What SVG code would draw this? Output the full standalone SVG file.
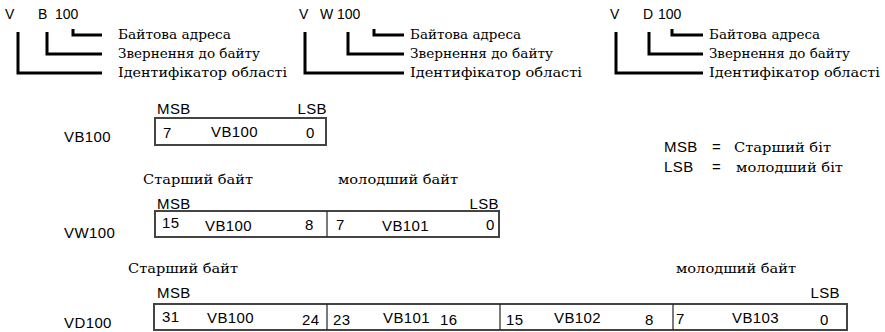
<svg xmlns="http://www.w3.org/2000/svg" width="885" height="332" viewBox="0 0 885 332">
<style>
.s{font-family:"Liberation Sans",Arial,sans-serif;font-size:15px;letter-spacing:0.4px;fill:#000}
.t{font-family:"Liberation Sans",Arial,sans-serif;font-size:14px;fill:#000}
.r{font-family:"DejaVu Serif","Liberation Serif",serif;font-size:13px;fill:#000}
.br{fill:none;stroke:#000;stroke-width:3}
.box{fill:#fff;stroke:#444;stroke-width:2}
.div{stroke:#222;stroke-width:1.2}
</style>
<rect width="885" height="332" fill="#fff"/>
<g id="format-B">
<text class="t" x="5" y="19">V</text><text class="t" x="38" y="19">B</text><text class="t" x="55" y="19">100</text>
<text class="r" x="118" y="39" textLength="113" lengthAdjust="spacingAndGlyphs">Байтова адреса</text>
<text class="r" x="118" y="58" textLength="142" lengthAdjust="spacingAndGlyphs">Звернення до байту</text>
<text class="r" x="118" y="77" textLength="169" lengthAdjust="spacingAndGlyphs">Ідентифікатор області</text>
</g>
<g id="format-W">
<text class="t" x="299" y="19">V</text><text class="t" x="320" y="19">W</text><text class="t" x="337" y="19">100</text>
<text class="r" x="410" y="39" textLength="111" lengthAdjust="spacingAndGlyphs">Байтова адреса</text>
<text class="r" x="410" y="58" textLength="143" lengthAdjust="spacingAndGlyphs">Звернення до байту</text>
<text class="r" x="410" y="77" textLength="172" lengthAdjust="spacingAndGlyphs">Ідентифікатор області</text>
</g>
<g id="format-D">
<text class="t" x="610" y="19">V</text><text class="t" x="643" y="19">D</text><text class="t" x="658" y="19">100</text>
<text class="r" x="709" y="39" textLength="111" lengthAdjust="spacingAndGlyphs">Байтова адреса</text>
<text class="r" x="709" y="58" textLength="141" lengthAdjust="spacingAndGlyphs">Звернення до байту</text>
<text class="r" x="709" y="77" textLength="171" lengthAdjust="spacingAndGlyphs">Ідентифікатор області</text>
</g>
<g id="connectors">
<path class="br" d="M73,29 V35 H102 M47,32 V54 H102 M18,32 V73 H102"/>
<path class="br" d="M374,29 V35 H404 M348,32 V54 H404 M305,32 V73 H404"/>
<path class="br" d="M672,29 V35 H703 M649,32 V54 H703 M616,32 V73 H703"/>
</g>
<g id="legend">
<text class="s" x="664" y="152">MSB</text><text class="s" x="712" y="152">=</text><text class="r" x="734" y="152" textLength="97" lengthAdjust="spacingAndGlyphs">Старший біт</text>
<text class="s" x="664" y="172">LSB</text><text class="s" x="712" y="172">=</text><text class="r" x="736" y="172" textLength="107" lengthAdjust="spacingAndGlyphs">молодший біт</text>
</g>
<g id="VB100">
<text class="s" x="64" y="142">VB100</text>
<text class="s" x="157" y="114">MSB</text><text class="s" x="327" y="114" text-anchor="end">LSB</text>
<rect class="box" x="155" y="118" width="171" height="27"/>
<text class="s" x="163" y="138">7</text><text class="s" x="211" y="137">VB100</text><text class="s" x="306" y="138">0</text>
</g>
<g id="VW100">
<text class="r" x="143" y="184" textLength="110" lengthAdjust="spacingAndGlyphs">Старший байт</text><text class="r" x="338" y="184" textLength="120" lengthAdjust="spacingAndGlyphs">молодший байт</text>
<text class="s" x="64" y="238">VW100</text>
<text class="s" x="157" y="209">MSB</text><text class="s" x="499" y="209" text-anchor="end">LSB</text>
<rect class="box" x="155" y="211" width="344" height="26"/>
<line class="div" x1="327" y1="211" x2="327" y2="237"/>
<text class="s" x="162" y="228">15</text><text class="s" x="205" y="231">VB100</text><text class="s" x="305" y="230">8</text>
<text class="s" x="336" y="230">7</text><text class="s" x="382" y="231">VB101</text><text class="s" x="486" y="230">0</text>
</g>
<g id="VD100">
<text class="r" x="128" y="273" textLength="110" lengthAdjust="spacingAndGlyphs">Старший байт</text><text class="r" x="676" y="273" textLength="120" lengthAdjust="spacingAndGlyphs">молодший байт</text>
<text class="s" x="64" y="328">VD100</text>
<text class="s" x="157" y="298">MSB</text><text class="s" x="840" y="298" text-anchor="end">LSB</text>
<rect class="box" x="154" y="304" width="693" height="26"/>
<line class="div" x1="327" y1="304" x2="327" y2="330"/>
<line class="div" x1="500" y1="304" x2="500" y2="330"/>
<line class="div" x1="673" y1="304" x2="673" y2="330"/>
<text class="s" x="162" y="322">31</text><text class="s" x="207" y="323">VB100</text><text class="s" x="302" y="325">24</text>
<text class="s" x="333" y="325">23</text><text class="s" x="383" y="323">VB101</text><text class="s" x="440" y="325">16</text>
<text class="s" x="506" y="325">15</text><text class="s" x="554" y="323">VB102</text><text class="s" x="645" y="325">8</text>
<text class="s" x="676" y="324">7</text><text class="s" x="732" y="323">VB103</text><text class="s" x="820" y="325">0</text>
</g>
</svg>
